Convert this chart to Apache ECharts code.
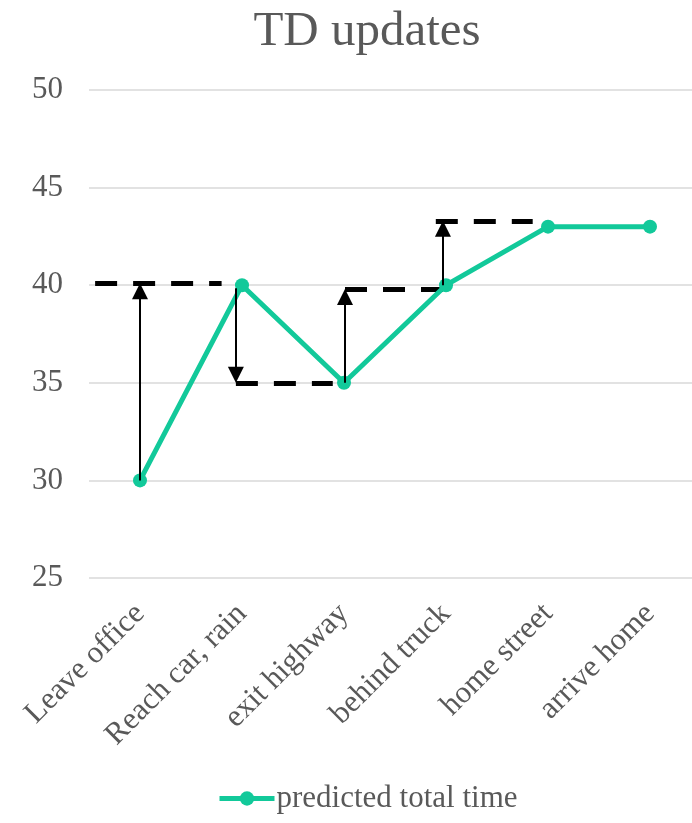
<!DOCTYPE html>
<html>
<head>
<meta charset="utf-8">
<style>
  html, body { margin: 0; padding: 0; background: #fff; overflow: hidden; }
  #chart { width: 701px; height: 823px; }
</style>
<script src="https://cdn.jsdelivr.net/npm/echarts@6/dist/echarts.min.js"></script>
</head>
<body>
<div id="chart"></div>
<script>
// Stages of the drive home and the predicted total time at each one
const categories = ['Leave office', 'Reach car, rain', 'exit highway', 'behind truck', 'home street', 'arrive home'];
const predictedTotal = [30, 40, 35, 40, 43, 43];
const yTicks = { min: 25, max: 50, interval: 5 };

// TD update targets: horizontal dashed levels [xFrom, xTo, level] (x in category units)
const targetLevels = [
  [-0.44, 0.80, 40.1],
  [0.94, 1.89, 35.0],
  [2.01, 2.97, 39.8],
  [2.90, 3.85, 43.3]
];
// Update arrows [x, fromValue, toValue]
const updateArrows = [
  [0.00, 30.0, 40.1],
  [0.94, 39.85, 35.0],
  [2.01, 35.0, 39.8],
  [2.97, 40.0, 43.3]
];

const textColor = '#595959';
const fontFamily = '"Liberation Serif", "Times New Roman", serif';
const green = '#12C99A';

const gridBox = { left: 89, right: 0, top: 90, bottom: 245 };
const chartHeight = 823;
const arrowHead = [17, 16];
// Pull the line end back by half an arrowhead so the tip lands on the target level
const unitsPerPx = (yTicks.max - yTicks.min) / (chartHeight - gridBox.top - gridBox.bottom);
const tipInset = arrowHead[1] / 2 * unitsPerPx;

const chart = echarts.init(document.getElementById('chart'));
chart.setOption({
  animation: false,
  backgroundColor: '#fff',
  title: {
    text: 'TD updates',
    left: 362,
    textAlign: 'center',
    top: 3,
    textStyle: { fontFamily, fontSize: 49, fontWeight: 'normal', color: textColor }
  },
  legend: {
    left: 212,
    bottom: 4,
    itemWidth: 55,
    itemHeight: 18,
    itemGap: 4,
    data: ['predicted total time'],
    lineStyle: { width: 5 },
    textStyle: { fontFamily, fontSize: 31, color: textColor, padding: [0, 0, 0, -3] }
  },
  grid: gridBox,
  xAxis: [
    {
      type: 'category',
      data: categories,
      boundaryGap: true,
      axisLine: { show: false },
      axisTick: { show: false },
      axisLabel: {
        rotate: 45,
        interval: 0,
        margin: 31,
        fontFamily, fontSize: 31, color: textColor
      }
    },
    { type: 'value', min: -0.5, max: 5.5, show: false }
  ],
  yAxis: {
    type: 'value',
    min: yTicks.min,
    max: yTicks.max,
    interval: yTicks.interval,
    axisLine: { show: false },
    axisTick: { show: false },
    axisLabel: { margin: 26, fontFamily, fontSize: 31, color: textColor },
    splitLine: { lineStyle: { color: '#d9d9d9', width: 1.5 } }
  },
  series: [
    {
      name: 'predicted total time',
      type: 'line',
      data: predictedTotal,
      symbol: 'circle',
      symbolSize: 14,
      itemStyle: { color: green },
      lineStyle: { color: green, width: 5 },
      z: 3
    },
    {
      name: 'levels',
      type: 'lines',
      coordinateSystem: 'cartesian2d',
      xAxisIndex: 1,
      yAxisIndex: 0,
      symbol: ['none', 'none'],
      lineStyle: { color: '#000', width: 5, type: [22, 16], opacity: 1 },
      data: targetLevels.map(([x0, x1, v]) => ({ coords: [[x0, v], [x1, v]] })),
      z: 2
    },
    {
      name: 'updates',
      type: 'lines',
      coordinateSystem: 'cartesian2d',
      xAxisIndex: 1,
      yAxisIndex: 0,
      symbol: ['none', 'triangle'],
      symbolSize: arrowHead,
      lineStyle: { color: '#000', width: 2, opacity: 1 },
      data: updateArrows.map(([x, a, b]) => {
        const end = b > a ? b - tipInset : b + tipInset;
        return { coords: [[x, a], [x, end]] };
      }),
      z: 4
    }
  ]
});
</script>
</body>
</html>
